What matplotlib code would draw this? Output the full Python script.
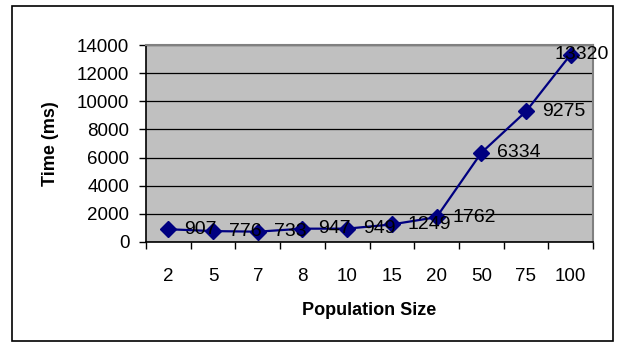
import numpy as np
import matplotlib
matplotlib.use('Agg')
import matplotlib.pyplot as plt
from matplotlib.patches import Rectangle

plt.rcParams['font.family'] = ['Liberation Sans', 'DejaVu Sans']

# chart data
pop_sizes = ['2', '5', '7', '8', '10', '15', '20', '50', '75', '100']
times_ms = [907, 776, 733, 947, 949, 1249, 1762, 6334, 9275, 13320]
y_ticks = [0, 2000, 4000, 6000, 8000, 10000, 12000, 14000]

fig = plt.figure(figsize=(6.21, 3.47), dpi=100)
# outer chart frame
fig.patches.append(Rectangle((12/621, 6/347), 601/621, 335/347, transform=fig.transFigure,
                             fill=False, edgecolor='black', linewidth=1.2))

ax = fig.add_axes([146/621, 105/347, 447/621, 197/347])
ax.set_facecolor('#C0C0C0')

x = np.arange(len(pop_sizes))
ax.plot(x, times_ms, color='#000080', marker='D', markersize=8.5, linewidth=1.6, zorder=3)

for i, v in enumerate(times_ms):
    dx = 11.5 if i < len(times_ms) - 1 else -11.5
    ax.annotate(str(v), (x[i], v), xytext=(dx, 0), textcoords='offset points',
                ha='left', va='center', fontsize=14, zorder=4)

ax.set_xlim(-0.5, len(pop_sizes) - 0.5)
ax.set_ylim(0, 14000)
ax.set_yticks(y_ticks)
ax.set_yticklabels([str(t) for t in y_ticks])
ax.yaxis.grid(True, color='black', linewidth=0.9)
ax.set_axisbelow(True)

ax.set_xticks(x)
ax.set_xticklabels(pop_sizes)
ax.set_xticks(np.arange(len(pop_sizes) + 1) - 0.5, minor=True)
ax.tick_params(axis='x', which='major', length=0, pad=19, labelsize=13.5)
ax.tick_params(axis='x', which='minor', length=5, width=1, color='black')
ax.tick_params(axis='y', length=5, width=1, pad=7, labelsize=13.5)

for side in ['top', 'right']:
    ax.spines[side].set_color('#808080')
    ax.spines[side].set_linewidth(1.5)
for side in ['left', 'bottom']:
    ax.spines[side].set_color('black')
    ax.spines[side].set_linewidth(1.2)

ax.set_xlabel('Population Size', fontsize=13, fontweight='bold', labelpad=12)
ax.set_ylabel('Time (ms)', fontsize=13, fontweight='bold', labelpad=13)

fig.savefig('out.png', dpi=100)
